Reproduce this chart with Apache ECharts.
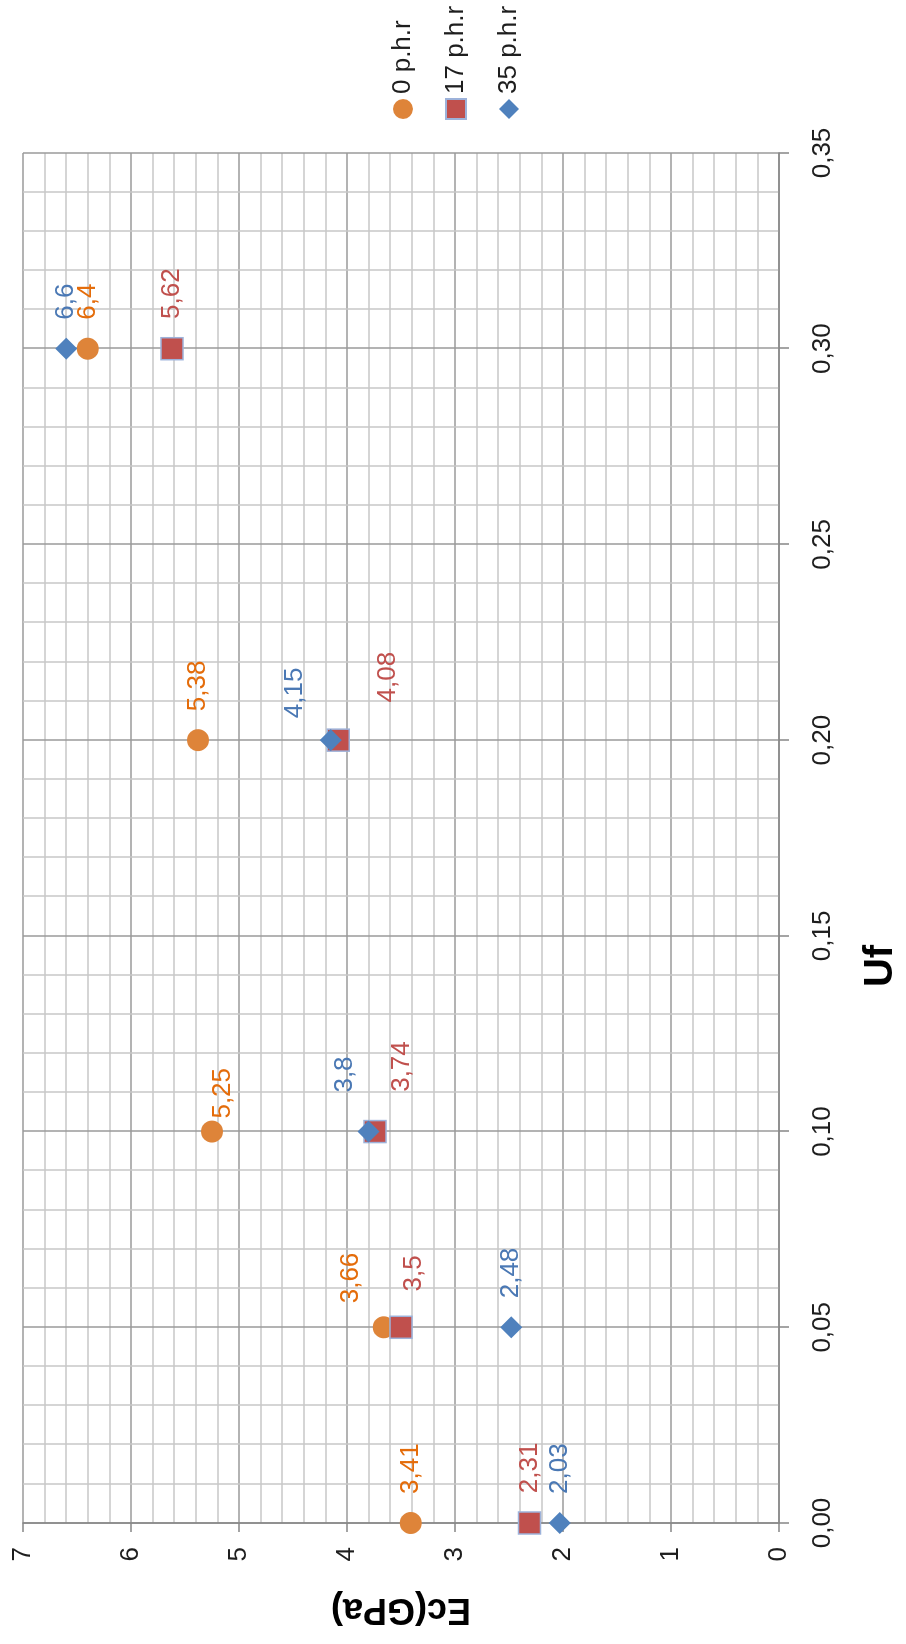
<!DOCTYPE html>
<html>
<head>
<meta charset="utf-8">
<title>Ec vs Uf</title>
<script src="https://cdn.jsdelivr.net/npm/echarts@6/dist/echarts.min.js"></script>
<style>
  html, body { margin: 0; padding: 0; background: #ffffff; overflow: hidden; }
  body { width: 906px; height: 1644px; position: relative; }
  /* The chart is laid out landscape and turned a quarter turn counter-clockwise. */
  #chart {
    position: absolute; left: 0; top: 0;
    width: 1644px; height: 906px;
    transform-origin: 0 0;
    transform: translate(0, 1644px) rotate(-90deg);
  }
</style>
</head>
<body>
<div id="chart"></div>
<script>
// Fibre content (Uf) and measured modulus Ec (GPa) for each rubber dosage
const uf = [0, 0.05, 0.1, 0.2, 0.3];
const ec0 = [3.41, 3.66, 5.25, 5.38, 6.4];
const ec17 = [2.31, 3.5, 3.74, 4.08, 5.62];
const ec35 = [2.03, 2.48, 3.8, 4.15, 6.6];
const seriesNames = ['0 p.h.r', '17 p.h.r', '35 p.h.r'];

// Axis ranges and tick steps
const ufAxis = { min: 0, max: 0.35, step: 0.05 };
const ecAxis = { min: 0, max: 7, step: 1 };

// Hand-placed nudges for value labels that would otherwise collide
const labelNudge = [
  [[0, 0], [-5, -33], [-16, 11], [0, 0], [0, 0]],
  [[0, 0], [6, 13], [10, 27], [8, 49], [0, 0]],
  [[0, 0], [0, 0], [10, -24], [-7, -36], [0, 0]]
];

const FONT = '"Liberation Sans", Arial, sans-serif';
const markerColors = ['#DE8439', '#C0504D', '#4F81BD'];
const labelColors = ['#E46C0A', '#C0504D', '#4A78B4'];
const symbols = ['circle', 'rect', 'diamond'];
const ecValues = [ec0, ec17, ec35];

const comma = v => String(v).replace('.', ',');

const series = ecValues.map((vals, s) => ({
  name: seriesNames[s],
  type: 'scatter',
  symbol: symbols[s],
  symbolSize: 22,
  itemStyle: s === 1
    ? { color: markerColors[s], borderColor: '#9DB2DA', borderWidth: 1.5, opacity: 1 }
    : { color: markerColors[s], opacity: 1 },
  label: {
    show: true,
    position: 'right',
    distance: 18,
    fontFamily: FONT,
    fontSize: 26,
    color: labelColors[s],
    formatter: p => comma(p.value[1])
  },
  emphasis: { disabled: true },
  z: 3 + s,
  data: uf.map((u, i) => ({
    value: [u, vals[i]],
    label: { offset: labelNudge[s][i] }
  }))
}));

const chart = echarts.init(document.getElementById('chart'), null, { renderer: 'canvas' });
chart.setOption({
  animation: false,
  backgroundColor: '#ffffff',
  grid: { left: 121, right: 153, top: 23, bottom: 126, containLabel: false },
  legend: {
    orient: 'vertical',
    left: 1519,
    top: 384,
    itemWidth: 20,
    itemHeight: 20,
    itemGap: 25,
    selectedMode: false,
    textStyle: { fontFamily: FONT, fontSize: 26, lineHeight: 28, color: '#1e1e1e' },
    data: seriesNames.map((n, s) => ({ name: n, icon: symbols[s] }))
  },
  xAxis: {
    type: 'value',
    min: ufAxis.min,
    max: ufAxis.max,
    interval: ufAxis.step,
    name: 'Uf',
    nameLocation: 'middle',
    nameGap: 82,
    nameTextStyle: {
      fontFamily: FONT, fontSize: 40, fontWeight: 'bold', color: '#000',
      padding: [0, 256, 0, 0]
    },
    axisLine: { show: true, onZero: false, lineStyle: { color: '#868686', width: 1.5 } },
    axisTick: { show: true, length: 10, inside: false, lineStyle: { color: '#868686', width: 1.5 } },
    axisLabel: {
      margin: 31,
      fontFamily: FONT, fontSize: 26, color: '#1e1e1e',
      formatter: v => v.toFixed(2).replace('.', ',')
    },
    splitLine: { show: true, lineStyle: { color: '#9A9A9A', width: 1.5 } },
    minorTick: { show: false, splitNumber: 5 },
    minorSplitLine: { show: true, lineStyle: { color: '#C8C8C8', width: 1.5 } }
  },
  yAxis: {
    type: 'value',
    min: ecAxis.min,
    max: ecAxis.max,
    interval: ecAxis.step,
    name: 'Ec(GPa)',
    nameLocation: 'middle',
    nameRotate: 90,
    nameGap: 68,
    nameTextStyle: { fontFamily: FONT, fontSize: 36, fontWeight: 'bold', color: '#000' },
    axisLine: { show: true, onZero: false, lineStyle: { color: '#868686', width: 1.5 } },
    axisTick: { show: true, length: 9, inside: false, lineStyle: { color: '#868686', width: 1.5 } },
    axisLabel: {
      margin: 24,
      fontFamily: FONT, fontSize: 26, color: '#1e1e1e',
      formatter: v => String(v)
    },
    splitLine: { show: true, lineStyle: { color: '#9A9A9A', width: 1.5 } },
    minorTick: { show: false, splitNumber: 5 },
    minorSplitLine: { show: true, lineStyle: { color: '#C8C8C8', width: 1.5 } }
  },
  series: series
});
</script>
</body>
</html>
